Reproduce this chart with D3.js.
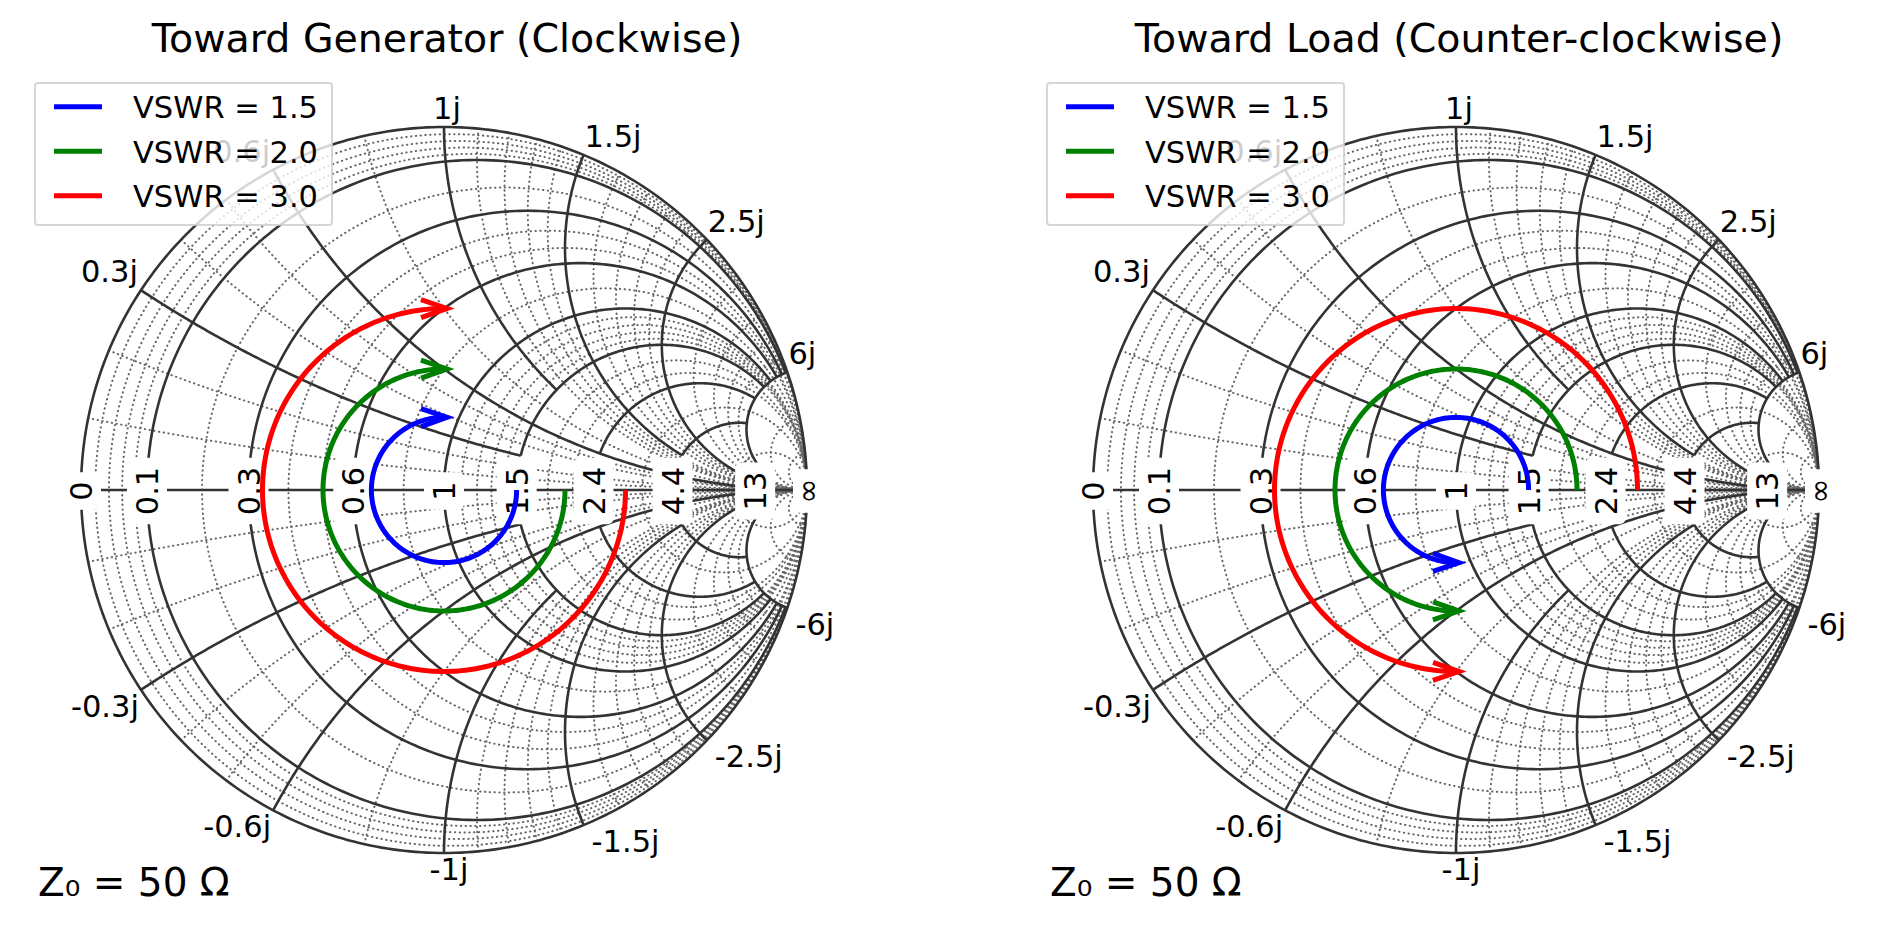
<!DOCTYPE html>
<html>
<head>
<meta charset="utf-8">
<script src="https://cdn.jsdelivr.net/npm/d3@7"></script>
<style>
  body { margin: 0; background: #fff; }
  text { font-family: "DejaVu Sans", sans-serif; fill: #000; }
</style>
</head>
<body>
<svg id="chart" width="1900" height="933"></svg>
<script>
// ---- chart data ----
const realTicks = [0.1, 0.3, 0.6, 1, 1.5, 2.4, 4.4, 13];
const realTickLabels = ['0.1', '0.3', '0.6', '1', '1.5', '2.4', '4.4', '13'];
const imagTicks = [0.3, 0.6, 1, 1.5, 2.5, 6];
const imagTickLabels = ['0.3j', '0.6j', '1j', '1.5j', '2.5j', '6j'];
const imagTickLabelsNeg = ['-0.3j', '-0.6j', '-1j', '-1.5j', '-2.5j', '-6j'];
// fancy major grid: reactance span kept for each resistance circle,
// resistance span kept for each reactance arc
const realLineSpan = [[0, 6], [0, 6], [0, 6], [0, 6], [0.3, 6], [0.6, 6], [1.5, 6], [2.5, 6]];
const imagLineSpan = [[0, 1.5], [0, 13], [0, 1.5], [0, 4.4], [0, 13], [0, 13]];
// minor grid: how many parts each major interval is split into
const realMinorDiv = [5, 2, 3, 2, 5, 3, 2, 2];
const imagMinorDiv = [3, 3, 2, 5, 5, 5];
const imagMinorExtra = [10, 20];
const vswrValues = [1.5, 2.0, 3.0];
const vswrLabels = ['VSWR = 1.5', 'VSWR = 2.0', 'VSWR = 3.0'];
const vswrColors = ['#0000ff', '#008000', '#ff0000'];
const panelTitles = ['Toward Generator (Clockwise)', 'Toward Load (Counter-clockwise)'];
const panelDirections = [-1, 1];   // -1 clockwise, 1 counter-clockwise
const sweepDegrees = 270;
const impedanceLabel = 'Z\u2080 = 50 \u03a9';

// ---- layout ----
const R = 363;
const panelCenters = [[444, 490], [1456, 490]];
const majorColor = '#333333', minorColor = '#666666';

const svg = d3.select('#chart');

// reflection coefficient of normalized impedance r + jx
function gamma(r, x) {
  if (!isFinite(r) || !isFinite(x)) return [1, 0];
  const a = r + 1, d = a * a + x * x;
  return [1 - 2 * a / d, 2 * x / d];
}
// points along constant-r circle between reactances x0..x1
function realArc(r, x0, x1, n) {
  const u0 = Math.atan2(x0, r + 1), u1 = Math.atan2(x1, r + 1);
  return d3.range(n + 1).map(i => {
    const u = u0 + (u1 - u0) * i / n;
    if (Math.abs(Math.abs(u) - Math.PI / 2) < 1e-9) return [1, 0];
    return gamma(r, (r + 1) * Math.tan(u));
  });
}
// points along constant-x arc between resistances r0..r1
function imagArc(x, r0, r1, n) {
  const ax = Math.abs(x), s = Math.sign(x);
  const v0 = Math.atan2(r0 + 1, ax), v1 = Math.atan2(r1 + 1, ax);
  return d3.range(n + 1).map(i => {
    const v = v0 + (v1 - v0) * i / n;
    if (Math.abs(v - Math.PI / 2) < 1e-9) return [1, 0];
    return gamma(ax * Math.tan(v) - 1, s * ax);
  });
}

const realBounds = [0, ...realTicks, Infinity];
const imagBounds = [0, ...imagTicks, Infinity];
const minorReal = [];
realMinorDiv.forEach((d, i) => {
  const a = realBounds[i], b = realBounds[i + 1];
  for (let j = 1; j < d; j++) minorReal.push(a + (b - a) * j / d);
});
const minorImag = [];
imagMinorDiv.forEach((d, k) => {
  const a = imagBounds[k], b = imagBounds[k + 1];
  for (let j = 1; j < d; j++) minorImag.push(a + (b - a) * j / d);
});
imagMinorExtra.forEach(v => minorImag.push(v));

function drawPanel(p) {
  const [cx, cy] = panelCenters[p];
  const ox = cx - panelCenters[0][0];
  const xs = d3.scaleLinear().domain([-1, 1]).range([cx - R, cx + R]);
  const ys = d3.scaleLinear().domain([-1, 1]).range([cy + R, cy - R]);
  const line = d3.line().x(d => xs(d[0])).y(d => ys(d[1]));
  const g = svg.append('g');

  // minor grid
  const gm = g.append('g')
    .attr('fill', 'none').attr('stroke', minorColor).attr('stroke-width', 2)
    .attr('stroke-linecap', 'round').attr('stroke-dasharray', '0.4 4.4');
  minorReal.forEach(r => {
    gm.append('path').attr('d', line(realArc(r, -Infinity, Infinity, 240)));
  });
  minorImag.forEach(x => {
    [x, -x].forEach(v => gm.append('path').attr('d', line(imagArc(v, 0, Infinity, 160))));
  });

  // major grid
  const gM = g.append('g')
    .attr('fill', 'none').attr('stroke', majorColor).attr('stroke-width', 2.6);
  gM.append('path').attr('d', line(realArc(0, -Infinity, Infinity, 400)));
  gM.append('path').attr('d', line([[-1, 0], [1, 0]]));
  realTicks.forEach((r, i) => {
    const [a, b] = realLineSpan[i];
    gM.append('path').attr('d', line(realArc(r, a, b, 160)));
    gM.append('path').attr('d', line(realArc(r, -b, -a, 160)));
  });
  imagTicks.forEach((x, i) => {
    const [a, b] = imagLineSpan[i];
    gM.append('path').attr('d', line(imagArc(x, a, b, 160)));
    gM.append('path').attr('d', line(imagArc(-x, a, b, 160)));
  });

  // real axis labels (rotated, boxed)
  const realLabels = [['0', -1]].concat(realTicks.map((r, i) => [realTickLabels[i], (r - 1) / (r + 1)]), [['\u221e', 1]]);
  const gl = g.append('g');
  realLabels.forEach(([txt, gx]) => {
    const px = xs(gx) + (txt === '\u221e' ? 1 : 0), py = cy + 1;
    const box = gl.append('rect').attr('fill', '#fff').attr('rx', 6);
    const t = gl.append('text')
      .attr('transform', `translate(${px},${py}) rotate(-90)`)
      .attr('text-anchor', 'middle')
      .attr('dy', txt === '\u221e' ? '0.33em' : '0.364em')
      .style('font-size', '30.5px')
      .text(txt);
    const len = t.node().getComputedTextLength();
    const bw = txt === '\u221e' ? 30 : 40;
    box.attr('x', px - bw / 2).attr('y', py - len / 2 - 9)
      .attr('width', bw).attr('height', len + 18);
  });

  // imaginary tick labels around the rim
  imagTicks.forEach((x, i) => {
    [1, -1].forEach(sg => {
      const gm0 = gamma(0, sg * x);
      const px = xs(gm0[0]), py = ys(gm0[1]);
      let anchor, dx;
      if (Math.abs(gm0[0]) < 0.01) { anchor = 'middle'; dx = sg > 0 ? 3 : 5; }
      else if (gm0[0] > 0) { anchor = 'start'; dx = sg > 0 ? 1 : 8; }
      else { anchor = 'end'; dx = sg > 0 ? -3 : -2; }
      g.append('text')
        .attr('x', px + dx).attr('y', sg > 0 ? py - 8 : py + 27)
        .attr('text-anchor', anchor)
        .style('font-size', '30.5px')
        .text(sg > 0 ? imagTickLabels[i] : imagTickLabelsNeg[i]);
    });
  });

  // constant-VSWR circles with direction arrows
  const dir = panelDirections[p];
  vswrValues.forEach((s, i) => {
    const rho = (s - 1) / (s + 1);
    const n = 240;
    const pts = d3.range(n + 1).map(k => {
      const th = dir * sweepDegrees * Math.PI / 180 * k / n;
      return [rho * Math.cos(th), rho * Math.sin(th)];
    });
    g.append('path').attr('d', line(pts))
      .attr('fill', 'none').attr('stroke', vswrColors[i]).attr('stroke-width', 5);
    const e = pts[n], q = pts[n - 1];
    const ex = xs(e[0]), ey = ys(e[1]);
    let tx = ex - xs(q[0]), ty = ey - ys(q[1]);
    const tl = Math.hypot(tx, ty); tx /= tl; ty /= tl;
    const tipx = ex + 3 * tx, tipy = ey + 3 * ty;
    const hl = 26, hw = 9;
    const w1 = [tipx - hl * tx - hw * ty, tipy - hl * ty + hw * tx];
    const w2 = [tipx - hl * tx + hw * ty, tipy - hl * ty - hw * tx];
    g.append('path')
      .attr('d', `M${w1[0]},${w1[1]}L${tipx},${tipy}L${w2[0]},${w2[1]}`)
      .attr('fill', 'none').attr('stroke', vswrColors[i]).attr('stroke-width', 5)
      .attr('stroke-linejoin', 'miter');
    g.append('path').attr('d', `M${ex},${ey}L${tipx},${tipy}`)
      .attr('stroke', vswrColors[i]).attr('stroke-width', 5);
  });

  // legend
  const lg = g.append('g');
  lg.append('rect')
    .attr('x', 35 + ox).attr('y', 83).attr('width', 297).attr('height', 142)
    .attr('rx', 3).attr('fill', '#fff').attr('fill-opacity', 0.8)
    .attr('stroke', '#cccccc').attr('stroke-opacity', 0.8).attr('stroke-width', 2);
  vswrValues.forEach((s, i) => {
    const yy = 106.7 + i * 44.5;
    lg.append('line').attr('x1', 54 + ox).attr('x2', 102 + ox).attr('y1', yy).attr('y2', yy)
      .attr('stroke', vswrColors[i]).attr('stroke-width', 5);
    lg.append('text').attr('x', 133 + ox).attr('y', yy + 11.5)
      .style('font-size', '30.5px').text(vswrLabels[i]);
  });

  // title and reference impedance
  g.append('text').attr('x', cx + 3).attr('y', 52).attr('text-anchor', 'middle')
    .style('font-size', '39.5px').text(panelTitles[p]);
  g.append('text').attr('x', 38 + ox).attr('y', 896)
    .style('font-size', '39px').text(impedanceLabel);
}

panelCenters.forEach((c, p) => drawPanel(p));
</script>
</body>
</html>
